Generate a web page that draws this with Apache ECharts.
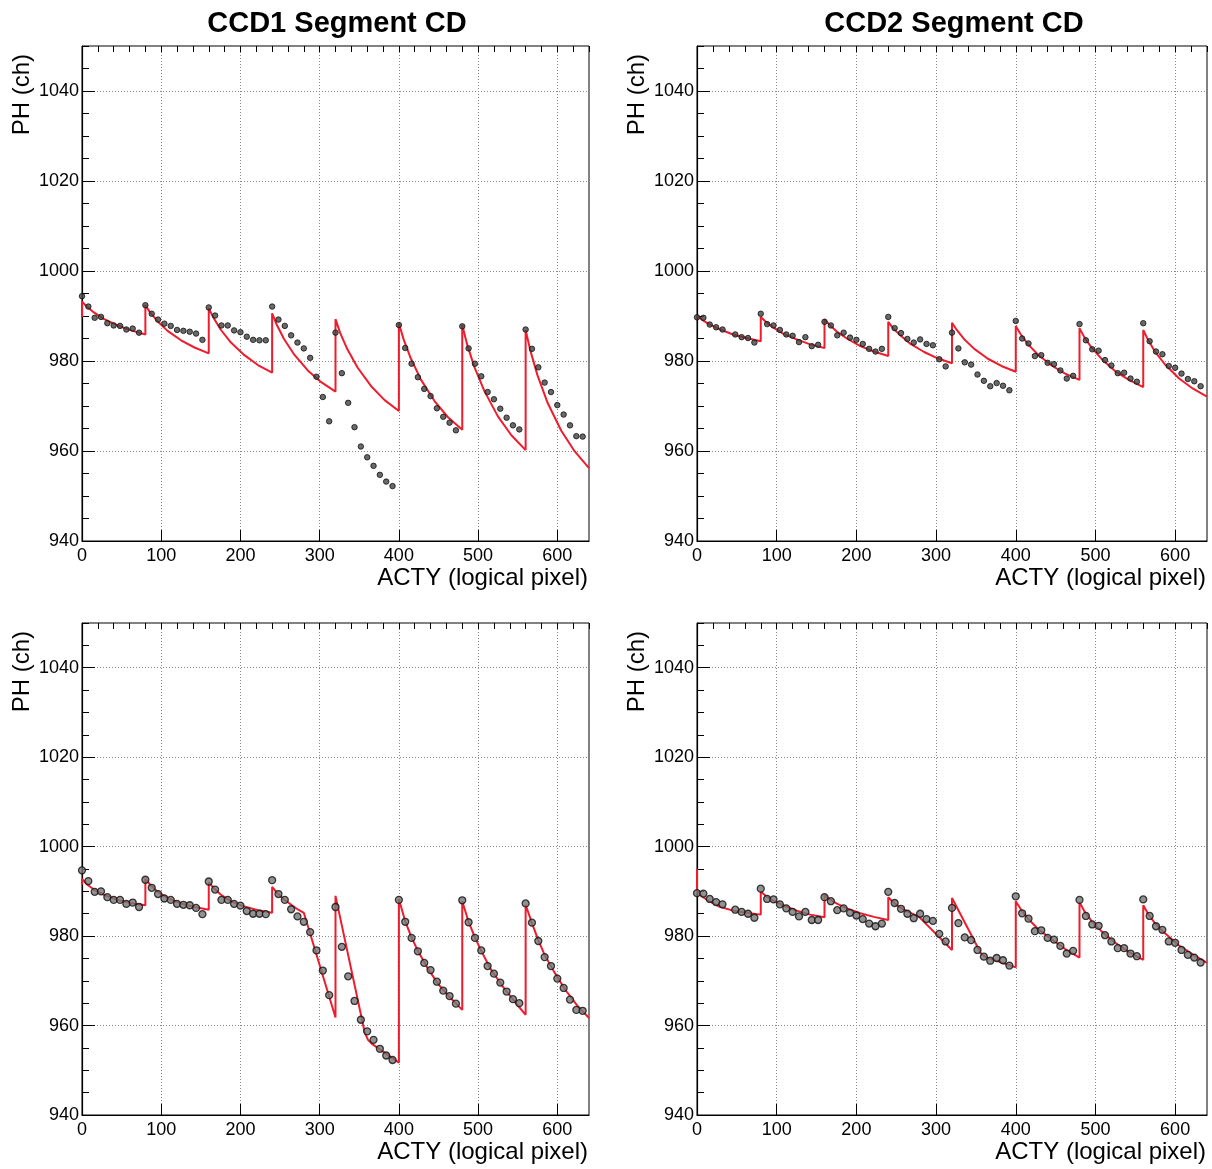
<!DOCTYPE html>
<html>
<head>
<meta charset="utf-8">
<script src="https://cdn.jsdelivr.net/npm/echarts@6/dist/echarts.min.js"></script>
<style>
  html, body { margin: 0; padding: 0; background: #fff; }
  #main { width: 1212px; height: 1169px; }
</style>
</head>
<body>
<div id="main"></div>
<script>
// ACTY bins (logical pixel)
var ACTY = [0, 8, 16, 24, 32, 40, 48, 56, 64, 72,
  80, 88, 96, 104, 112, 120, 128, 136, 144, 152,
  160, 168, 176, 184, 192, 200, 208, 216, 224, 232,
  240, 248, 256, 264, 272, 280, 288, 296, 304, 312,
  320, 328, 336, 344, 352, 360, 368, 376, 384, 392,
  400, 408, 416, 424, 432, 440, 448, 456, 464, 472,
  480, 488, 496, 504, 512, 520, 528, 536, 544, 552,
  560, 568, 576, 584, 592, 600, 608, 616, 624, 632];

// pulse height per bin
var ccd1Top = [994.4, 992.1, 989.6, 989.8, 988.4, 987.9, 987.8, 987.0, 987.2, 986.3,
  992.4, 990.5, 989.2, 988.3, 987.8, 986.9, 986.7, 986.5, 986.1, 984.7,
  991.9, 990.1, 987.9, 987.9, 986.8, 986.4, 985.4, 984.7, 984.6, 984.6,
  992.1, 989.2, 987.8, 985.7, 984.1, 982.8, 980.7, 976.5, 972.0, 966.6,
  986.3, 977.3, 970.7, 965.3, 961.0, 958.6, 956.7, 954.7, 953.2, 952.2,
  988.0, 982.9, 979.4, 976.4, 973.8, 972.2, 969.5, 967.6, 966.3, 964.6,
  987.7, 982.8, 979.4, 976.6, 973.1, 971.5, 969.4, 967.4, 965.7, 964.8,
  987.0, 982.7, 978.6, 975.2, 973.1, 970.2, 968.1, 965.7, 963.3, 963.2];

var ccd2Top = [989.7, 989.6, 988.1, 987.5, 987.0, null, 985.9, 985.3, 985.1, 984.1,
  990.5, 988.2, 987.9, 986.9, 985.9, 985.6, 984.2, 985.3, 983.3, 983.6,
  988.7, 987.9, 985.7, 986.3, 985.2, 984.7, 983.8, 982.7, 982.1, 982.7,
  989.8, 987.3, 986.2, 984.9, 984.1, 984.8, 983.8, 983.5, 980.4, 978.8,
  986.3, 982.8, 979.7, 979.2, 977.0, 975.6, 974.4, 975.1, 974.5, 973.5,
  988.9, 985.0, 983.9, 981.1, 981.3, 979.6, 979.3, 977.9, 976.1, 976.7,
  988.2, 984.6, 982.6, 982.3, 980.2, 979.0, 977.3, 977.4, 976.1, 975.4,
  988.4, 984.4, 982.1, 981.5, 978.9, 978.5, 977.2, 976.0, 975.5, 974.4];

var ccd1Bot = [994.7, 992.3, 989.9, 990.0, 988.7, 988.1, 988.1, 987.2, 987.5, 986.5,
  992.6, 990.8, 989.4, 988.4, 988.1, 987.2, 987.0, 986.9, 986.3, 984.9,
  992.2, 990.4, 988.1, 988.1, 987.2, 986.8, 985.6, 985.0, 985.0, 984.9,
  992.5, 989.4, 988.1, 986.0, 984.4, 983.2, 980.9, 976.8, 972.3, 966.8,
  986.5, 977.6, 971.0, 965.5, 961.3, 958.7, 956.8, 954.8, 953.3, 952.3,
  988.1, 983.2, 979.6, 976.6, 974.0, 972.4, 969.8, 967.8, 966.6, 964.9,
  988.0, 983.1, 979.6, 976.8, 973.3, 971.6, 969.6, 967.6, 965.9, 965.0,
  987.3, 983.0, 978.9, 975.3, 973.3, 970.5, 968.4, 965.8, 963.5, 963.3];

var ccd2Bot = [989.6, 989.5, 988.3, 987.6, 987.1, null, 985.9, 985.4, 985.0, 984.1,
  990.6, 988.3, 988.2, 987.1, 986.2, 985.4, 984.4, 985.4, 983.6, 983.6,
  988.7, 987.8, 985.8, 986.2, 985.2, 984.6, 983.8, 982.8, 982.2, 982.8,
  989.9, 987.4, 986.1, 985.0, 984.0, 985.0, 983.8, 983.4, 980.5, 978.8,
  986.3, 982.9, 979.7, 979.1, 976.9, 975.4, 974.5, 975.1, 974.6, 973.4,
  988.9, 985.1, 983.9, 981.1, 981.3, 979.6, 979.2, 977.8, 976.1, 976.7,
  988.1, 984.5, 982.6, 982.3, 980.2, 978.8, 977.3, 977.3, 976.1, 975.5,
  988.2, 984.5, 982.2, 981.4, 978.8, 978.5, 976.9, 975.8, 975.2, 974.1];

// fitted model curves [ACTY, PH]
var fitCcd1Top = [[0,989.8],[0,993.2],[6,992.1],[15,990.8],[28,989.3],[45,987.9],[62,986.8],[80,985.9],
  [80,992.4],[86,990.8],[95,988.9],[108,986.7],[125,984.6],[142,983.0],[160,981.7],
  [160,991.7],[166,989.6],[175,987.0],[188,984.1],[205,981.3],[222,979.1],[240,977.4],
  [240,990.6],[246,988.0],[255,984.9],[268,981.4],[285,977.9],[302,975.3],[320,973.2],
  [320,989.3],[326,986.2],[335,982.6],[348,978.5],[365,974.4],[382,971.3],[400,968.9],
  [400,988.4],[406,984.8],[415,980.6],[428,975.8],[445,971.1],[462,967.5],[480,964.7],
  [480,988.0],[486,983.8],[495,978.8],[508,973.3],[525,967.7],[542,963.5],[560,960.2],
  [560,986.9],[566,982.3],[575,976.8],[588,970.6],[605,964.5],[622,959.9],[640,956.2]];

var fitCcd2Top = [[0,990.1],[6,989.2],[15,988.2],[28,987.1],[45,985.9],[62,985.1],[80,984.4],
  [80,989.8],[86,988.8],[95,987.5],[108,986.1],[125,984.8],[142,983.7],[160,982.9],
  [160,989.3],[166,988.1],[175,986.6],[188,985.0],[205,983.3],[222,982.1],[240,981.1],
  [240,988.7],[246,987.3],[255,985.7],[268,983.8],[285,982.0],[302,980.6],[320,979.5],
  [320,988.5],[326,986.9],[335,984.9],[348,982.7],[365,980.5],[382,978.9],[400,977.6],
  [400,987.8],[406,986.0],[415,983.8],[428,981.4],[445,979.0],[462,977.2],[480,975.8],
  [480,987.3],[486,985.3],[495,983.0],[508,980.4],[525,977.7],[542,975.8],[560,974.2],
  [560,986.9],[566,984.7],[575,982.0],[588,979.1],[605,976.1],[622,973.9],[640,972.1]];

var fitCcd1Bot = [[0,991.5],[0,992.8],[6,991.6],[15,990.4],[28,989.2],[45,988.1],[62,987.4],[80,986.9],
  [80,992.8],[86,991.5],[95,990.0],[108,988.5],[125,987.3],[142,986.5],[160,985.9],
  [160,992.0],[166,990.8],[175,989.3],[188,987.8],[205,986.6],[222,985.8],[240,985.2],
  [240,991.0],[246,989.7],[255,988.2],[265,986.9],[273,985.9],[280,985.2],[320,961.8],
  [320,989.0],[357,958.4],[361,956.8],[366,955.9],[400,951.7],
  [400,988.3],[408,983.3],[416,979.7],[424,976.7],[436,972.9],[450,969.2],[465,966.2],[480,963.5],
  [480,987.8],[488,983.2],[496,979.7],[504,976.7],[516,972.6],[530,969.0],[545,965.6],[560,962.4],
  [560,987.0],[568,982.9],[576,979.1],[584,975.8],[596,972.0],[610,968.0],[625,964.5],[640,961.7]];

var fitCcd2Bot = [[0,995.0],[0,990.0],[6,988.9],[15,987.8],[28,986.6],[45,985.7],[62,985.2],[80,984.8],
  [80,990.0],[86,989.0],[95,988.0],[108,986.9],[125,985.7],[142,984.8],[160,984.2],
  [160,989.3],[166,988.3],[175,987.3],[188,986.2],[205,985.1],[222,984.3],[240,983.6],
  [240,988.7],[246,987.6],[255,986.4],[265,985.4],[278,984.4],[320,976.9],
  [320,988.5],[356,976.2],[362,975.3],[400,973.0],
  [400,987.8],[406,986.1],[415,984.0],[428,981.6],[445,979.3],[462,977.1],[480,975.2],
  [480,987.6],[486,985.6],[495,983.4],[508,981.0],[525,978.5],[542,976.4],[560,974.7],
  [560,986.9],[566,985.0],[575,982.8],[588,980.5],[605,977.9],[622,975.9],[640,974.0]];

var titles = ['CCD1 Segment CD', 'CCD2 Segment CD'];
var xName = 'ACTY (logical pixel)';
var yName = 'PH (ch)';

var FONT = '"Liberation Sans", Arial, Helvetica, sans-serif';

var panels = [
  {left: 82, top: 46, width: 507, height: 495, ph: ccd1Top, fit: fitCcd1Top, big: false},
  {left: 697, top: 46, width: 510, height: 495, ph: ccd2Top, fit: fitCcd2Top, big: false},
  {left: 82, top: 623, width: 507, height: 492, ph: ccd1Bot, fit: fitCcd1Bot, big: true},
  {left: 697, top: 623, width: 510, height: 492, ph: ccd2Bot, fit: fitCcd2Bot, big: true}
];

var grids = [], xAxes = [], yAxes = [], series = [], graphics = [];

// plain numbers, no thousands separator
function plain(v) { return String(v); }

panels.forEach(function (p, i) {
  grids.push({left: p.left, top: p.top, width: p.width, height: p.height,
    show: true, borderColor: '#000', borderWidth: 1, backgroundColor: '#fff'});

  // major x
  xAxes.push({type: 'value', gridIndex: i, min: 0, max: 640, interval: 100,
    axisLine: {show: true, onZero: false, lineStyle: {color: '#000', width: 1.2}},
    axisTick: {show: true, inside: true, length: 11, lineStyle: {color: '#000'}},
    axisLabel: {color: '#000', fontSize: 18, fontFamily: FONT, margin: 6, showMaxLabel: false, formatter: plain},
    splitLine: {show: true, lineStyle: {color: '#888', type: [1, 2], width: 1}}
  });
  // minor x
  xAxes.push({type: 'value', gridIndex: i, min: 0, max: 640, interval: 20,
    axisLine: {show: false}, axisLabel: {show: false}, splitLine: {show: false},
    axisTick: {show: true, inside: true, length: 6, lineStyle: {color: '#000'}}
  });
  // major y
  yAxes.push({type: 'value', gridIndex: i, min: 940, max: 1050, interval: 20, position: 'left',
    axisLine: {show: true, onZero: false, lineStyle: {color: '#000', width: 1.2}},
    axisTick: {show: true, inside: true, length: 13, lineStyle: {color: '#000'}},
    axisLabel: {color: '#000', fontSize: 18, fontFamily: FONT, margin: 3, showMaxLabel: false, formatter: plain},
    splitLine: {show: true, lineStyle: {color: '#888', type: [1, 2], width: 1}}
  });
  // minor y
  yAxes.push({type: 'value', gridIndex: i, min: 940, max: 1050, interval: 5, position: 'left', offset: 0,
    axisLine: {show: false}, axisLabel: {show: false}, splitLine: {show: false},
    axisTick: {show: true, inside: true, length: 7, lineStyle: {color: '#000'}}
  });

  series.push({
    type: 'line', xAxisIndex: 2 * i, yAxisIndex: 2 * i,
    data: p.fit, showSymbol: false, symbol: 'none',
    lineStyle: {color: '#ee1c2c', width: 2}, z: 3, silent: true
  });
  series.push({
    type: 'scatter', xAxisIndex: 2 * i, yAxisIndex: 2 * i,
    data: ACTY.map(function (x, k) { return [x, p.ph[k]]; }),
    symbol: 'circle', symbolSize: p.big ? 7 : 5.5,
    itemStyle: p.big ? {color: '#777', borderColor: '#111', borderWidth: 1.3}
                     : {color: '#444', borderColor: '#111', borderWidth: 1},
    z: 4, silent: true
  });

  // axis titles
  graphics.push({type: 'text', x: p.left + p.width - 1, y: p.top + p.height + 37,
    style: {text: xName, fill: '#000', fontSize: 24, fontFamily: FONT, align: 'right', verticalAlign: 'middle'}});
  graphics.push({type: 'text', x: p.left - 60, y: p.top + 8, rotation: Math.PI / 2,
    style: {text: yName, fill: '#000', fontSize: 24, fontFamily: FONT, align: 'right', verticalAlign: 'middle'}});
});

graphics.push({type: 'text', x: 337, y: 24,
  style: {text: titles[0], fill: '#000', fontSize: 29, fontWeight: 'bold', fontFamily: FONT, align: 'center', verticalAlign: 'middle'}});
graphics.push({type: 'text', x: 954, y: 24,
  style: {text: titles[1], fill: '#000', fontSize: 29, fontWeight: 'bold', fontFamily: FONT, align: 'center', verticalAlign: 'middle'}});

var chart = echarts.init(document.getElementById('main'), null, {renderer: 'canvas'});
chart.setOption({
  animation: false,
  backgroundColor: '#fff',
  grid: grids,
  xAxis: xAxes,
  yAxis: yAxes,
  series: series,
  graphic: graphics
});
</script>
</body>
</html>
